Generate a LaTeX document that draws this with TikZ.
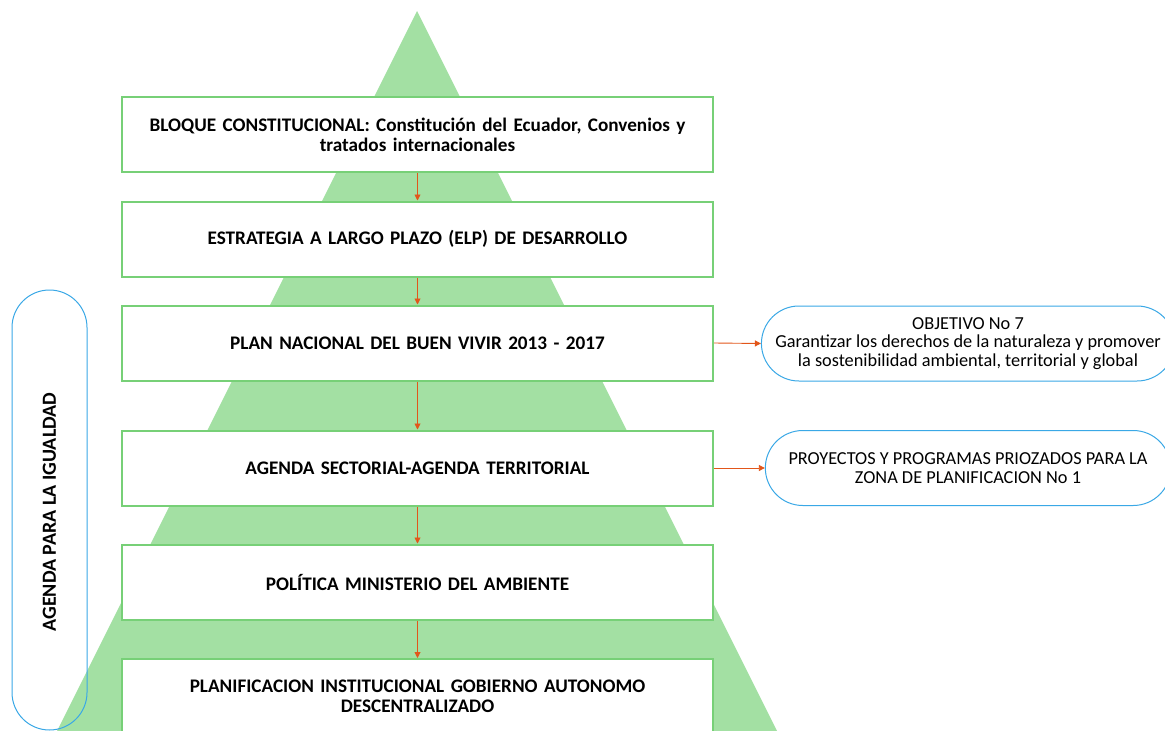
\documentclass[tikz,border=0pt]{standalone}
\usepackage{fontspec}
\setmainfont{Carlito}
\usetikzlibrary{arrows.meta,shapes.misc}
\definecolor{trifill}{HTML}{A3E0A3}
\definecolor{boxgreen}{HTML}{77D077}
\definecolor{capblue}{HTML}{3AA8E6}
\definecolor{arrorange}{HTML}{E2561A}
\tikzset{
  x=1pt,y=-1pt,
  levelbox/.style={draw=boxgreen,line width=2pt,fill=white,minimum width=591pt,minimum height=75pt,align=center,font=\fontsize{19.2}{20}\selectfont\bfseries,text width=570pt},
  capbox/.style={draw=capblue,line width=1pt,fill=white,rounded rectangle,minimum height=75pt,minimum width=412pt,align=center,font=\fontsize{18.3}{18.5}\selectfont},
  flow/.style={draw=arrorange,line width=0.9pt,-{Triangle[length=6pt,width=6pt]}}
}
\begin{document}
\begin{tikzpicture}
\useasboundingbox (0,0) rectangle (1165,731);
\clip (0,0) rectangle (1165,731);
\fill[trifill] (417,11) -- (779,735) -- (55,735) -- cycle;
% left capsule
\draw[capblue,line width=1pt,rounded corners=37.5pt] (12,290) rectangle (87,730);
\node[rotate=90,font=\fontsize{20}{20}\selectfont\bfseries] (agenda) at (49.5,512) {AGENDA PARA LA IGUALDAD};
% level boxes
\node[levelbox] (b1) at (417.5,134.5) {BLOQUE CONSTITUCIONAL: Constitución del Ecuador, Convenios y\\tratados internacionales};
\node[levelbox] (b2) at (417.5,239) {ESTRATEGIA A LARGO PLAZO (ELP) DE DESARROLLO};
\node[levelbox] (b3) at (417.5,343) {PLAN NACIONAL DEL BUEN VIVIR 2013 - 2017};
\node[levelbox] (b4) at (417.5,468) {AGENDA SECTORIAL-AGENDA TERRITORIAL};
\node[levelbox] (b5) at (417.5,582) {POLÍTICA MINISTERIO DEL AMBIENTE};
\node[levelbox] (b6) at (417.5,696.5) {PLANIFICACION INSTITUCIONAL GOBIERNO AUTONOMO\\DESCENTRALIZADO};
% right capsules
\node[capbox] (obj) at (968,343.5) {OBJETIVO No 7\\Garantizar los derechos de la naturaleza y promover\\la sostenibilidad ambiental, territorial y global};
\node[capbox] (proy) at (968,468) {PROYECTOS Y PROGRAMAS PRIOZADOS PARA LA\\ZONA DE PLANIFICACION No 1};
% connectors
\draw[flow] (b1) -- (b2);
\draw[flow] (b2) -- (b3);
\draw[flow] (b3) -- (b4);
\draw[flow] (b4) -- (b5);
\draw[flow] (b5) -- (b6);
\draw[flow] (b3.east) -- (obj.west);
\draw[flow] (b4.east) -- (proy.west);
\end{tikzpicture}
\end{document}
